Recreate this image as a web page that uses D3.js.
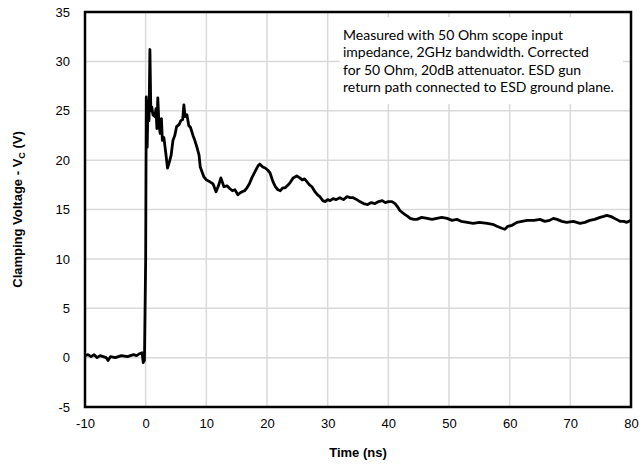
<!DOCTYPE html>
<html>
<head>
<meta charset="utf-8">
<script src="https://cdn.jsdelivr.net/npm/d3@7"></script>
<style>
  body { margin: 0; background: #fff; }
</style>
</head>
<body>
<div id="chart"></div>
<script>
// waveform
const timeNs = [-10, -9.5, -9, -8.5, -8, -7.5, -7, -6.5, -6.2, -5.8, -5, -4, -3, -2, -1.5, -1, -0.6, -0.4, -0.2,
    0.0, 0.1, 0.25, 0.4, 0.55, 0.7, 0.85, 1.0, 1.2, 1.5, 1.7, 1.85, 2.0, 2.2, 2.4, 2.6, 2.75, 3.0, 3.3, 3.6, 3.9,
    4.2, 4.5, 4.8, 5.1, 5.5, 5.8, 6.1, 6.3, 6.5, 6.8, 7.1, 7.4, 7.8, 8.1, 8.5, 8.8, 9.0, 9.3, 9.6, 10.0,
    10.6, 11.1, 11.6, 12.0, 12.4, 12.9, 13.4, 13.9, 14.3, 14.7, 15.2, 15.6, 15.9, 16.3, 16.7, 17.1, 17.5, 18.0,
    18.5, 18.8, 19.3, 19.7, 20.1, 20.5, 21.0, 21.4, 21.8, 22.2, 22.6, 23.0, 23.5, 23.9, 24.3, 24.9, 25.4, 25.8,
    26.2, 26.6, 27.0, 27.4, 27.9, 28.3, 28.7, 29.2, 29.6, 30.0, 30.4, 30.9, 31.4, 32.0, 32.6, 33.2, 33.7, 34.2,
    34.8, 35.3, 35.9, 36.6, 37.2, 37.8, 38.4, 39.0, 39.5, 40.0, 40.6, 41.1, 41.5, 41.9, 42.3, 42.7, 43.2, 43.6,
    44.2, 44.7, 45.5, 46.4, 47.2, 48.0, 48.8, 49.7, 50.5, 51.3, 52.0, 53.0, 54.0, 55.0, 56.3, 57.2, 57.9, 58.7,
    59.2, 59.7, 60.4, 61.2, 62.0, 62.9, 64.0, 65.0, 65.8, 66.6, 67.2, 67.8, 68.6, 69.4, 70.5, 71.6, 72.4, 73.2,
    74.0, 74.9, 75.5, 76.0, 76.6, 77.0, 77.6, 78.2, 78.8, 79.3, 80]
const voltage = [0.2, 0.3, 0.1, 0.3, 0.0, 0.2, 0.1, 0.0, -0.3, 0.1, 0.0, 0.2, 0.1, 0.3, 0.2, 0.4, 0.5, -0.5, -0.3,
    10, 26.4, 21.3, 26.0, 24.0, 31.2, 25.0, 25.4, 24.6, 24.4, 25.2, 23.2, 26.3, 23.5, 22.7, 24.2, 22.0, 22.3, 20.8, 19.2, 19.8,
    20.5, 22.0, 22.5, 23.4, 23.6, 24.0, 24.1, 25.6, 24.4, 24.6, 23.5, 23.3, 22.5, 22.0, 21.2, 20.5, 19.3, 18.8, 18.3, 18.0,
    17.8, 17.6, 16.8, 17.4, 18.2, 17.3, 17.4, 17.1, 16.9, 17.0, 16.5, 16.7, 16.8, 16.9, 17.2, 17.6, 18.2, 18.8,
    19.4, 19.6, 19.3, 19.2, 19.0, 18.7, 17.8, 17.3, 17.0, 16.9, 17.2, 17.2, 17.5, 17.8, 18.2, 18.4, 18.2, 18.0,
    18.1, 17.8, 17.5, 17.3, 16.8, 16.5, 16.3, 15.9, 15.8, 16.0, 15.9, 16.1, 16.0, 16.2, 16.0, 16.3, 16.2, 16.2,
    16.0, 15.8, 15.6, 15.5, 15.7, 15.6, 15.8, 15.9, 15.7, 15.8, 15.8, 15.6, 15.3, 14.9, 14.7, 14.5, 14.3, 14.1,
    14.0, 14.0, 14.2, 14.1, 14.0, 14.1, 14.2, 14.1, 13.9, 14.0, 13.8, 13.7, 13.6, 13.7, 13.6, 13.5, 13.3, 13.1,
    13.0, 13.3, 13.4, 13.7, 13.8, 13.9, 13.9, 14.0, 13.8, 13.9, 14.1, 14.0, 13.8, 13.7, 13.8, 13.6, 13.7, 13.9,
    14.0, 14.2, 14.3, 14.4, 14.3, 14.2, 14.0, 13.8, 13.8, 13.7, 13.9]

const xTicks = [-10, 0, 10, 20, 30, 40, 50, 60, 70, 80]
const yTicks = [-5, 0, 5, 10, 15, 20, 25, 30, 35]
const noteLines = [
    "Measured with 50 Ohm scope input",
    "impedance, 2GHz bandwidth. Corrected",
    "for 50 Ohm, 20dB attenuator. ESD gun",
    "return path connected to ESD ground plane."
]

const width = 641, height = 470
const margin = {top: 12, right: 10, bottom: 63, left: 85}
const innerW = width - margin.left - margin.right
const innerH = height - margin.top - margin.bottom
const sans = "'Liberation Sans', Arial, sans-serif"

const svg = d3.select("#chart").append("svg")
    .attr("width", width)
    .attr("height", height)
const g = svg.append("g")
    .attr("transform", "translate(" + margin.left + "," + margin.top + ")")

const x = d3.scaleLinear().domain([-10, 80]).range([0, innerW])
const y = d3.scaleLinear().domain([-5, 35]).range([innerH, 0])

// grid
g.append("g").selectAll("line").data(xTicks).join("line")
    .attr("x1", d => x(d)).attr("x2", d => x(d))
    .attr("y1", 0).attr("y2", innerH)
    .attr("stroke", "#d9d9d9").attr("stroke-width", 1.5)
g.append("g").selectAll("line").data(yTicks).join("line")
    .attr("x1", 0).attr("x2", innerW)
    .attr("y1", d => y(d)).attr("y2", d => y(d))
    .attr("stroke", "#d9d9d9").attr("stroke-width", 1.5)

// note box covers the grid behind it
g.append("rect")
    .attr("x", 255).attr("y", 5)
    .attr("width", 283).attr("height", 87)
    .attr("fill", "#fff")
const note = g.append("text")
    .style("font-family", "Lato, 'Open Sans', sans-serif")
    .style("font-size", "14px")
    .attr("fill", "#000")
note.selectAll("tspan").data(noteLines).join("tspan")
    .attr("x", 258)
    .attr("y", (d, i) => 28 + i * 17.3)
    .text(d => d)

// waveform
const points = timeNs.map((t, i) => ({t: t, v: voltage[i]}))
g.append("path")
    .datum(points)
    .attr("fill", "none")
    .attr("stroke", "#000")
    .attr("stroke-width", 2.8)
    .attr("stroke-linejoin", "round")
    .attr("d", d3.line().x(d => x(d.t)).y(d => y(d.v)))

// axes
g.append("g")
    .attr("transform", "translate(0," + innerH + ")")
    .call(d3.axisBottom(x).tickValues(xTicks).tickFormat(d => String(d)).tickSize(0).tickPadding(12))
    .call(a => a.select(".domain").remove())
    .call(a => a.selectAll("text").attr("fill", "#000")
        .style("font-size", "13px").style("font-family", sans))
g.append("g")
    .call(d3.axisLeft(y).tickValues(yTicks).tickFormat(d => String(d)).tickSize(0).tickPadding(15))
    .call(a => a.select(".domain").remove())
    .call(a => a.selectAll("text").attr("fill", "#000")
        .style("font-size", "13px").style("font-family", sans))

// frame
g.append("rect")
    .attr("width", innerW).attr("height", innerH)
    .attr("fill", "none").attr("stroke", "#000").attr("stroke-width", 2.5)

// axis titles
svg.append("text")
    .attr("x", margin.left + innerW / 2).attr("y", 457)
    .attr("text-anchor", "middle")
    .style("font-family", sans).style("font-size", "13px").style("font-weight", "bold")
    .text("Time (ns)")
const yTitle = svg.append("text")
    .attr("transform", "translate(22," + (margin.top + innerH / 2) + ") rotate(-90)")
    .attr("text-anchor", "middle")
    .style("font-family", sans).style("font-size", "13px").style("font-weight", "bold")
yTitle.append("tspan").text("Clamping Voltage - V")
yTitle.append("tspan").style("font-size", "9px").attr("dy", 3).text("C")
yTitle.append("tspan").attr("dy", -3).text(" (V)")
</script>
</body>
</html>
